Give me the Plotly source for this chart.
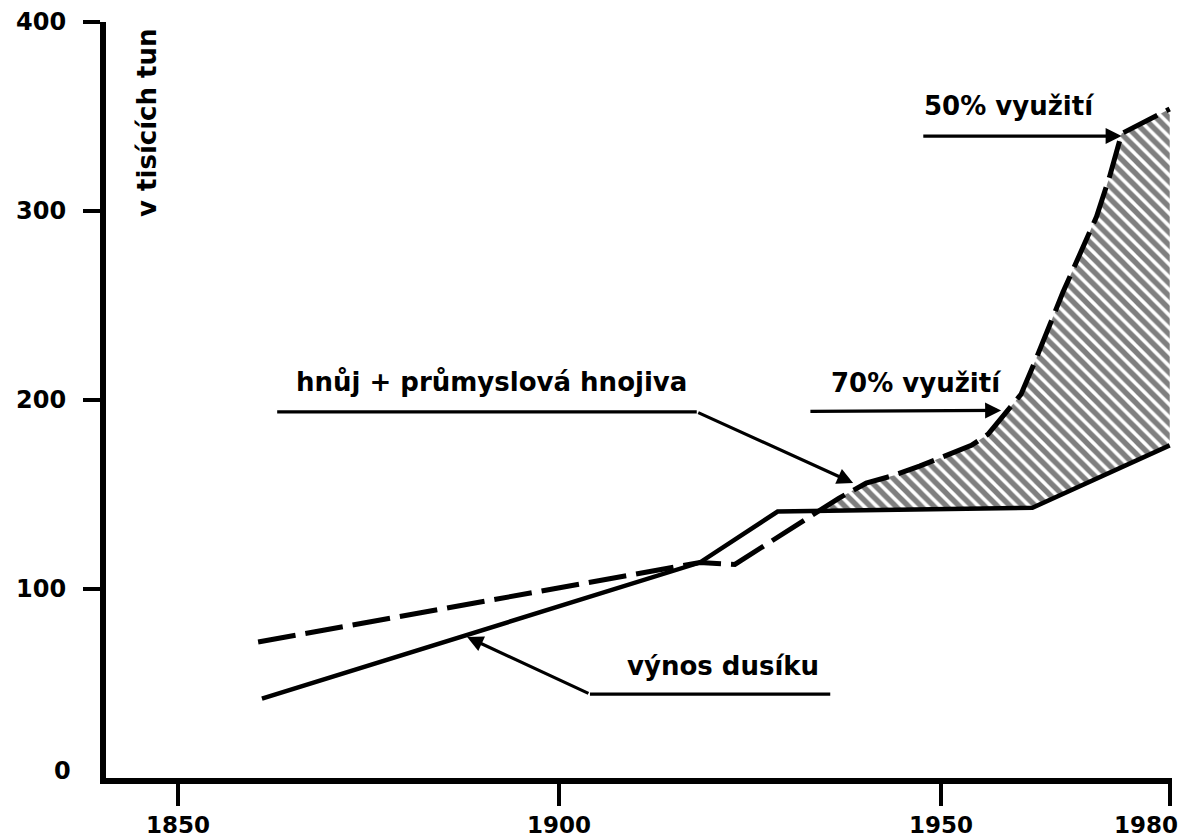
import numpy as np
import plotly.graph_objects as go

# ---- data ----
years_solid = [1861, 1918.4, 1928.6, 1962, 1980]
nitrogen_yield = [42, 114, 141, 143, 176]          # výnos dusíku

years_dashed = [1860.5, 1918.4, 1923, 1934, 1936.6, 1940.2, 1943.7, 1947.2,
                1951.7, 1954, 1956.2, 1958.2, 1960.5, 1962.5, 1966, 1970.4,
                1972.1, 1973.7, 1980]
manure_fert = [72, 114, 113, 141, 148, 156, 160, 165,
               172, 176, 182, 192, 203, 222, 257, 297,
               318, 341, 354]                         # hnůj + průmyslová hnojiva

hatch_start = 1934
x_ticks = [1850, 1900, 1950, 1980]
x_tick_text = ["1850", "1900", "1950", "1980"]
y_ticks = [100, 200, 300, 400]

FONT = "DejaVu Sans"
LBL = dict(family=FONT, size=26, color="black", weight="bold")
TICKF = dict(family=FONT, size=24, color="black", weight="bold")
XTICKF = dict(family=FONT, size=23, color="black", weight="bold")

fig = go.Figure()

# hatched gap between the curves
top_x = [x for x in years_dashed if x >= hatch_start]
top_y = [v for x, v in zip(years_dashed, manure_fert) if x >= hatch_start]
bot = [(x, v) for x, v in zip(years_solid, nitrogen_yield) if x > hatch_start][::-1]
bot_x = [b[0] for b in bot] + [hatch_start]
bot_y = [b[1] for b in bot] + [float(np.interp(hatch_start, years_solid, nitrogen_yield))]
fig.add_trace(go.Scatter(
    x=top_x + bot_x, y=top_y + bot_y, mode="lines", fill="toself",
    line=dict(width=0, color="rgba(0,0,0,0)"),
    fillpattern=dict(shape="\\", fgcolor="black", bgcolor="white", size=9, solidity=0.6),
    fillcolor="white", hoverinfo="skip", showlegend=False))

fig.add_trace(go.Scatter(x=years_solid, y=nitrogen_yield, mode="lines",
                         line=dict(color="black", width=4.5), showlegend=False))
fig.add_trace(go.Scatter(x=years_dashed, y=manure_fert, mode="lines",
                         line=dict(color="black", width=5, dash="38px,10px"),
                         showlegend=False))

# leader underlines
def seg(x0, x1, y):
    fig.add_trace(go.Scatter(x=[x0, x1], y=[y, y], mode="lines",
                             line=dict(color="black", width=3.2),
                             hoverinfo="skip", showlegend=False))

seg(1863.0, 1918.0, 193.7)
seg(1904.0, 1935.5, 44.4)

def arrow(x0, y0, x1, y1):
    fig.add_annotation(x=x1, y=y1, ax=x0, ay=y0, xref="x", yref="y",
                       axref="x", ayref="y", text="", showarrow=True,
                       arrowhead=2, arrowsize=1.0, arrowwidth=3.2,
                       arrowcolor="black", standoff=0, startstandoff=0)

arrow(1918.0, 193.7, 1938.5, 156.1)
arrow(1932.7, 194.0, 1957.9, 194.5)
arrow(1947.5, 339.7, 1973.7, 339.7)
arrow(1904.0, 44.4, 1887.9, 74.6)

def label(txt, x, y, **kw):
    fig.add_annotation(x=x, y=y, xref="x", yref="y", text=txt, showarrow=False,
                       font=LBL, xanchor="center", yanchor="middle", **kw)

label("hnůj + průmyslová hnojiva", 1891.15, 209.5)
label("70% využití", 1946.85, 209.0)
label("50% využití", 1959.0, 355.5)
label("výnos dusíku", 1921.45, 59.3)
label("v tisících tun", 1845.9, 346.5, textangle=-90)

# "0" at the origin (no tick mark there in the original)
fig.add_annotation(x=0, y=0, xref="paper", yref="y", text="0", showarrow=False,
                   font=TICKF, xanchor="center", yanchor="middle",
                   xshift=-44, yshift=7)

# x tick labels (last one nudged left so it stays inside the page)
for xv, txt in zip(x_ticks, x_tick_text):
    fig.add_annotation(x=xv, y=0, xref="x", yref="paper", text=txt,
                       showarrow=False, font=XTICKF, xanchor="center",
                       yanchor="top", yshift=-32,
                       xshift=-24 if xv == x_ticks[-1] else 0)

fig.update_layout(
    width=1178, height=840,
    margin=dict(l=106, r=6, t=22, b=62),
    paper_bgcolor="white", plot_bgcolor="white",
    showlegend=False,
    xaxis=dict(range=[1840.56, 1980.3], tickvals=x_ticks, showticklabels=False,
               ticks="outside", ticklen=22, tickwidth=4, tickcolor="black",
               showline=True, linecolor="black", linewidth=6,
               showgrid=False, zeroline=False),
    yaxis=dict(range=[0, 400.05], tickvals=y_ticks, ticks="outside",
               ticklen=17, tickwidth=4, tickcolor="black",
               showline=True, linecolor="black", linewidth=6,
               showgrid=False, zeroline=False, ticklabelstandoff=12,
               tickfont=TICKF),
)

fig.write_html("out.html", config={"displayModeBar": False},
               post_script="document.body.style.margin='0';"
                           "document.body.style.padding='0';")
